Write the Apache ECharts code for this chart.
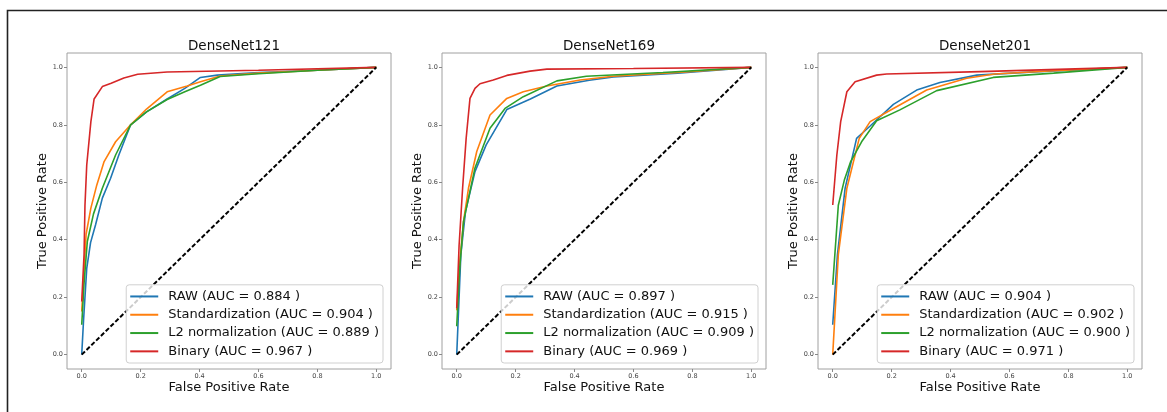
<!DOCTYPE html>
<html>
<head>
<meta charset="utf-8">
<script src="https://cdn.jsdelivr.net/npm/echarts@6/dist/echarts.min.js"></script>
<style>
html,body{margin:0;padding:0;background:#fff;}
#c{width:1167px;height:412px;}
</style>
</head>
<body>
<div id="c"></div>
<script>
// ---- data ----
const titles = ['DenseNet121', 'DenseNet169', 'DenseNet201'];
const methods = ['RAW', 'Standardization', 'L2 normalization', 'Binary'];
const tickValues = [0, 0.2, 0.4, 0.6, 0.8, 1.0];
const xAxisName = 'False Positive Rate';
const yAxisName = 'True Positive Rate';

const auc121 = [0.884, 0.904, 0.889, 0.967];
const auc169 = [0.897, 0.915, 0.909, 0.969];
const auc201 = [0.904, 0.902, 0.900, 0.971];

const raw121 = [[0,0],[0.006,0.116],[0.017,0.30],[0.03,0.39],[0.047,0.452],[0.07,0.545],[0.098,0.614],[0.126,0.695],[0.166,0.80],[0.22,0.845],[0.29,0.89],[0.35,0.927],[0.403,0.965],[0.46,0.973],[0.6,0.982],[0.8,0.99],[1,1]];
const std121 = [[0,0.15],[0.008,0.30],[0.015,0.42],[0.031,0.51],[0.051,0.59],[0.076,0.672],[0.115,0.741],[0.166,0.80],[0.22,0.855],[0.29,0.915],[0.358,0.935],[0.403,0.95],[0.47,0.97],[0.6,0.98],[0.8,0.99],[1,1]];
const l2_121 = [[0,0.104],[0.008,0.25],[0.019,0.394],[0.04,0.49],[0.07,0.579],[0.115,0.695],[0.166,0.80],[0.22,0.845],[0.29,0.888],[0.35,0.915],[0.403,0.938],[0.47,0.968],[0.6,0.978],[0.8,0.99],[1,1]];
const bin121 = [[0,0.185],[0.008,0.35],[0.011,0.52],[0.017,0.66],[0.031,0.81],[0.042,0.89],[0.07,0.933],[0.1,0.945],[0.143,0.963],[0.19,0.976],[0.29,0.984],[0.6,0.99],[1,1]];

const raw169 = [[0,0],[0.014,0.348],[0.03,0.5],[0.062,0.637],[0.1,0.73],[0.17,0.853],[0.25,0.89],[0.34,0.935],[0.45,0.955],[0.532,0.967],[0.75,0.98],[1,1]];
const std169 = [[0,0.154],[0.01,0.32],[0.023,0.463],[0.04,0.58],[0.068,0.707],[0.113,0.834],[0.17,0.892],[0.226,0.915],[0.306,0.935],[0.419,0.956],[0.532,0.969],[0.75,0.982],[1,1]];
const l2_169 = [[0,0.099],[0.01,0.3],[0.023,0.463],[0.062,0.65],[0.113,0.788],[0.164,0.857],[0.226,0.898],[0.34,0.953],[0.44,0.969],[0.7,0.982],[1,1]];
const bin169 = [[0,0.162],[0.008,0.38],[0.02,0.58],[0.032,0.753],[0.045,0.892],[0.062,0.927],[0.079,0.943],[0.124,0.956],[0.17,0.972],[0.249,0.987],[0.306,0.994],[0.6,0.996],[1,1]];

const raw201 = [[0,0.104],[0.016,0.348],[0.042,0.579],[0.081,0.753],[0.127,0.796],[0.206,0.871],[0.285,0.921],[0.364,0.947],[0.489,0.973],[0.7,0.985],[1,1]];
const std201 = [[0,0],[0.019,0.348],[0.048,0.579],[0.09,0.753],[0.127,0.811],[0.206,0.857],[0.319,0.921],[0.455,0.962],[0.55,0.977],[0.75,0.988],[1,1]];
const l2_201 = [[0,0.243],[0.019,0.52],[0.04,0.61],[0.061,0.672],[0.098,0.741],[0.149,0.814],[0.228,0.852],[0.353,0.919],[0.545,0.965],[0.75,0.98],[1,1]];
const bin201 = [[0,0.521],[0.014,0.695],[0.027,0.811],[0.048,0.915],[0.076,0.95],[0.149,0.973],[0.183,0.977],[0.5,0.985],[1,1]];

const chanceLine = [[0,0],[1,1]];

const panels = [
  {title: titles[0], auc: auc121, curves: [raw121, std121, l2_121, bin121]},
  {title: titles[1], auc: auc169, curves: [raw169, std169, l2_169, bin169]},
  {title: titles[2], auc: auc201, curves: [raw201, std201, l2_201, bin201]}
];

// ---- layout / style ----
const colors = ['#1f77b4', '#ff7f0e', '#2ca02c', '#d62728'];
const gridLefts = [67, 442, 818];
const gridW = 324, gridTop = 53, gridH = 316;
const W = 1167, H = 412;
const FONT = 'DejaVu Sans';

const option = {
  animation: false,
  backgroundColor: '#fff',
  textStyle: {fontFamily: FONT},
  title: [], grid: [], xAxis: [], yAxis: [], legend: [], series: [],
  graphic: [{
    type: 'rect', silent: true, z: 100,
    shape: {x: 7.5, y: 10.5, width: 1300, height: 600},
    style: {fill: 'none', stroke: '#222', lineWidth: 1.6}
  }]
};

function axisCfg(i, name, gap) {
  return {
    type: 'value', gridIndex: i, min: -0.05, max: 1.05,
    name: name, nameLocation: 'middle', nameGap: gap, nameMoveOverlap: false,
    nameTextStyle: {fontFamily: FONT, fontSize: 13, color: '#111'},
    axisLine: {show: false, onZero: false}, splitLine: {show: false},
    axisTick: {show: true, length: 3, lineStyle: {color: '#888'}, customValues: tickValues},
    axisLabel: {fontFamily: FONT, fontSize: 6.5, color: '#444', margin: 4,
      customValues: tickValues, formatter: v => v.toFixed(1)}
  };
}

panels.forEach((p, i) => {
  const left = gridLefts[i];
  option.title.push({
    text: p.title, left: left + gridW / 2, top: 34, textAlign: 'center',
    textStyle: {fontFamily: FONT, fontSize: 13.5, fontWeight: 'normal', color: '#111'}
  });
  option.grid.push({left: left, top: gridTop, width: gridW, height: gridH,
    show: true, borderColor: '#a0a0a0', borderWidth: 1, backgroundColor: 'transparent'});
  option.xAxis.push(axisCfg(i, xAxisName, 12));
  option.yAxis.push(axisCfg(i, yAxisName, 18));
  const names = methods.map((m, k) => `${m} (AUC = ${p.auc[k].toFixed(3)} )`);
  option.legend.push({
    orient: 'vertical', right: W - (left + gridW - 8), bottom: H - (gridTop + gridH - 6),
    data: names, icon: 'rect', itemWidth: 28, itemHeight: 2, itemGap: 5,
    padding: [5, 4, 5, 4],
    backgroundColor: 'rgba(255,255,255,0.8)', borderColor: '#d0d0d0', borderWidth: 1, borderRadius: 3,
    textStyle: {fontFamily: FONT, fontSize: 13, color: '#111', lineHeight: 13.3, padding: [0, 0, 0, 5]},
    selectedMode: false
  });
  p.curves.forEach((c, k) => {
    option.series.push({
      type: 'line', name: names[k], xAxisIndex: i, yAxisIndex: i,
      data: c, symbol: 'none', smooth: false, color: colors[k],
      lineStyle: {width: 1.6, color: colors[k]}
    });
  });
  option.series.push({
    type: 'line', xAxisIndex: i, yAxisIndex: i, data: chanceLine, symbol: 'none',
    lineStyle: {width: 2, color: '#000', type: [4.5, 2.2]}, z: 3
  });
});

const chart = echarts.init(document.getElementById('c'), null, {renderer: 'canvas'});
chart.setOption(option);
</script>
</body>
</html>
